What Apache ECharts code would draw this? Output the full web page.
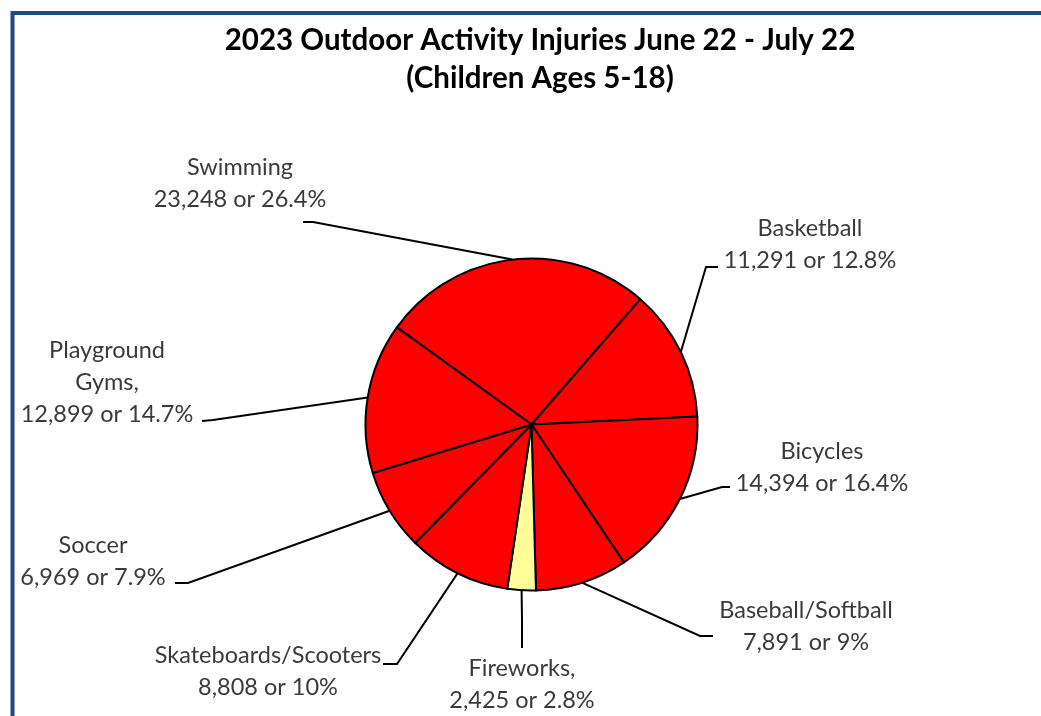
<!DOCTYPE html>
<html>
<head>
<meta charset="utf-8">
<script src="https://cdn.jsdelivr.net/npm/echarts@6/dist/echarts.min.js"></script>
<style>
html,body{margin:0;padding:0;background:#fff;}
#chart{width:1041px;height:716px;}
</style>
</head>
<body>
<div id="chart"></div>
<script>
// Data
const categories = ['Swimming', 'Basketball', 'Bicycles', 'Baseball/Softball', 'Fireworks,', 'Skateboards/Scooters', 'Soccer', 'Playground\nGyms,'];
const injuries = [23248, 11291, 14394, 7891, 2425, 8808, 6969, 12899];
const percents = [26.4, 12.8, 16.4, 9, 2.8, 10, 7.9, 14.7];
const sliceColors = ['#FF0000', '#FF0000', '#FF0000', '#FF0000', '#FFFF99', '#FF0000', '#FF0000', '#FF0000'];

// Label placement (layout only)
const labelPlace = [
  {x: 240, y: 183, elbow: [313, 222], end: [303, 222]},
  {x: 810, y: 244, elbow: [706, 267], end: [718, 267]},
  {x: 822, y: 467, elbow: [722, 487], end: [730, 487]},
  {x: 806, y: 626, elbow: [700, 636], end: [713, 636]},
  {x: 522, y: 684, elbow: null, end: [522, 648]},
  {x: 268, y: 671, elbow: [397, 664], end: [383, 664]},
  {x: 93, y: 561, elbow: [188, 583], end: [175, 583]},
  {x: 107, y: 382, elbow: [213, 420], end: [202, 421]}
];

const fmt = n => n.toLocaleString('en-US');
const data = categories.map((c, i) => ({
  name: c,
  value: injuries[i],
  itemStyle: {color: sliceColors[i]}
}));

const chart = echarts.init(document.getElementById('chart'), null, {renderer: 'canvas'});
chart.setOption({
  animation: false,
  backgroundColor: '#ffffff',
  graphic: [{
    type: 'rect',
    shape: {x: 12.5, y: 13, width: 1100, height: 800},
    style: {fill: 'none', stroke: '#24497f', lineWidth: 4},
    silent: true
  }],
  title: {
    text: '2023 Outdoor Activity Injuries June 22 - July 22\n(Children Ages 5-18)',
    left: 535,
    textAlign: 'center',
    top: 16,
    textStyle: {fontFamily: 'Lato', fontWeight: 'bold', fontSize: 29.5, color: '#000', lineHeight: 38}
  },
  series: [{
    type: 'pie',
    center: [531.5, 424.5],
    radius: 166,
    startAngle: 144.2,
    clockwise: true,
    avoidLabelOverlap: false,
    itemStyle: {borderColor: '#000', borderWidth: 2},
    emphasis: {disabled: true},
    label: {
      show: true,
      position: 'outside',
      fontFamily: 'Lato',
      fontSize: 23.5,
      lineHeight: 32,
      color: '#3a3a3a',
      align: 'center',
      formatter: p => p.name + '\n' + fmt(injuries[p.dataIndex]) + ' or ' + percents[p.dataIndex] + '%'
    },
    labelLine: {show: true, length: 20, length2: 10, lineStyle: {color: '#000', width: 2}},
    labelLayout: function (params) {
      const L = labelPlace[params.dataIndex];
      const start = params.labelLinePoints ? params.labelLinePoints[0] : L.end;
      const pts = L.elbow ? [start, L.elbow, L.end] : [start, [L.end[0], (start[1] + L.end[1]) / 2], L.end];
      return {x: L.x, y: L.y, align: 'center', verticalAlign: 'middle', labelLinePoints: pts};
    },
    data: data
  }]
});
</script>
</body>
</html>
